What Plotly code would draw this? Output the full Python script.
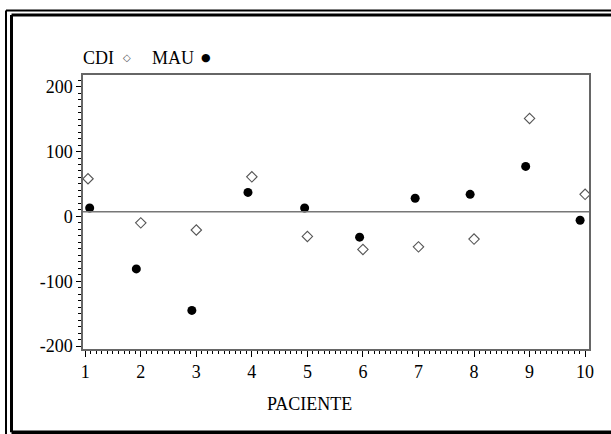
import plotly.graph_objects as go

# ---- data ----
patients = [1, 2, 3, 4, 5, 6, 7, 8, 9, 10]
cdi_x = [1.05, 2.0, 3.0, 4.0, 5.0, 6.0, 7.0, 8.0, 9.0, 10.0]
cdi_y = [58, -10, -21, 61, -31, -51, -47, -35, 151, 34]
mau_x = [1.08, 1.92, 2.92, 3.93, 4.95, 5.94, 6.94, 7.93, 8.93, 9.91]
mau_y = [13, -81, -145, 37, 13, -32, 28, 34, 77, -6]
ref_value = 7
y_ticks = [-200, -100, 0, 100, 200]
x_title = "PACIENTE"
series_names = ["CDI", "MAU"]

W, H = 611, 434
L, R, T, B = 83, 589, 74.5, 349  # plot area in pixels

def px(x):
    return (x - L) / (R - L)

def py(y):
    return (B - y) / (B - T)

FONT = '"Liberation Serif", "Times New Roman", Times, serif'

fig = go.Figure()
fig.add_trace(go.Scatter(
    x=cdi_x, y=cdi_y, mode="markers", name=series_names[0],
    marker=dict(symbol="diamond-open", size=8, color="#555555", line=dict(width=1.1, color="#555555")),
    cliponaxis=False, showlegend=False))
fig.add_trace(go.Scatter(
    x=mau_x, y=mau_y, mode="markers", name=series_names[1],
    marker=dict(symbol="circle", size=9, color="black"),
    cliponaxis=False, showlegend=False))

shapes = []
# reference line
shapes.append(dict(type="line", xref="paper", yref="y", x0=0, x1=1, y0=ref_value, y1=ref_value,
                   line=dict(color="#777777", width=1.5)))
# outer decorative frame (double line)
shapes.append(dict(type="line", xref="paper", yref="paper", x0=px(6), x1=px(W + 5), y0=py(10), y1=py(10),
                   line=dict(color="black", width=2)))
shapes.append(dict(type="line", xref="paper", yref="paper", x0=px(6), x1=px(6), y0=py(10), y1=py(H + 5),
                   line=dict(color="black", width=2)))
shapes.append(dict(type="line", xref="paper", yref="paper", x0=px(11.5), x1=px(W + 5), y0=py(14.5), y1=py(14.5),
                   line=dict(color="black", width=3)))
shapes.append(dict(type="line", xref="paper", yref="paper", x0=px(11.5), x1=px(11.5), y0=py(14.5), y1=py(432.5),
                   line=dict(color="black", width=3)))
shapes.append(dict(type="line", xref="paper", yref="paper", x0=px(11.5), x1=px(W + 5), y0=py(432.5), y1=py(432.5),
                   line=dict(color="black", width=3.5)))

annotations = [
    dict(text=x_title, xref="paper", yref="paper", x=px(309), y=py(404), showarrow=False,
         font=dict(family=FONT, size=18, color="black"), xanchor="center", yanchor="middle"),
    dict(text=series_names[0], xref="paper", yref="paper", x=px(81), y=py(57), showarrow=False,
         font=dict(family=FONT, size=18, color="black"), xanchor="left", yanchor="middle"),
    dict(text="◇", xref="paper", yref="paper", x=px(127), y=py(57), showarrow=False,
         font=dict(family="DejaVu Sans", size=10, color="#555555"), xanchor="center", yanchor="middle"),
    dict(text=series_names[1], xref="paper", yref="paper", x=px(150), y=py(57), showarrow=False,
         font=dict(family=FONT, size=18, color="black"), xanchor="left", yanchor="middle"),
    dict(text="●", xref="paper", yref="paper", x=px(206), y=py(57), showarrow=False,
         font=dict(family="DejaVu Sans", size=11, color="black"), xanchor="center", yanchor="middle"),
]

fig.update_layout(
    width=W, height=H,
    margin=dict(l=L, r=W - R, t=T, b=H - B, pad=0),
    paper_bgcolor="white", plot_bgcolor="white",
    font=dict(family=FONT, size=18, color="black"),
    shapes=shapes, annotations=annotations,
    showlegend=False,
)
fig.update_xaxes(
    range=[0.96, 10.07], tickvals=patients, ticktext=[str(p) for p in patients],
    showgrid=False, zeroline=False,
    showline=True, mirror=True, linecolor="#666666", linewidth=1.5,
    ticks="outside", ticklen=6, tickwidth=1.2, tickcolor="black",
    minor=dict(dtick=0.1, ticks="outside", ticklen=3, tickwidth=1, tickcolor="black", showgrid=False),
    tickfont=dict(family=FONT, size=18, color="black"),
)
fig.update_yaxes(
    range=[-204.5, 218], tickvals=y_ticks, ticktext=[str(v) for v in y_ticks],
    showgrid=False, zeroline=False,
    showline=True, mirror=True, linecolor="#666666", linewidth=1.5,
    ticks="outside", ticklen=5, tickwidth=1.2, tickcolor="black",
    minor=dict(dtick=10, ticks="outside", ticklen=3, tickwidth=1, tickcolor="black", showgrid=False),
    tickfont=dict(family=FONT, size=18, color="black"),
)

fig.write_html("out.html", config={"displayModeBar": False},
               post_script="document.body.style.margin='0';document.body.style.overflow='hidden';")
